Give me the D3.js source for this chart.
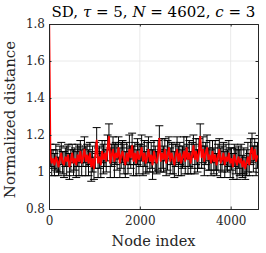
<!DOCTYPE html>
<html>
<head>
<meta charset="utf-8">
<script src="https://cdn.jsdelivr.net/npm/d3@7.9.0/dist/d3.min.js"></script>
<style>
  body { margin: 0; background: #fff; }
  svg { display: block; font-family: "DejaVu Serif", "Liberation Serif", serif; }
</style>
</head>
<body>
<svg width="266" height="253"></svg>
<script>
// one sample every `step` nodes
const step = 30;
const means = [
  1.90, 1.09, 1.05, 1.07, 1.04, 1.08, 1.06, 1.03, 1.07, 1.10,
  1.05, 1.04, 1.08, 1.06, 1.09, 1.03, 1.06, 1.10, 1.05, 1.07,
  1.04, 1.09, 1.06, 1.11, 1.05, 1.08, 1.12, 1.06, 1.09, 1.05,
  1.10, 1.03, 1.07, 1.02, 1.09, 1.17, 1.05, 1.08, 1.04, 1.11,
  1.07, 1.10, 1.06, 1.13, 1.19, 1.05, 1.09, 1.12, 1.06, 1.10,
  1.08, 1.13, 1.05, 1.09, 1.11, 1.07, 1.04, 1.10, 1.06, 1.12,
  1.08, 1.14, 1.06, 1.10, 1.05, 1.11, 1.07, 1.09, 1.13, 1.06,
  1.10, 1.05, 1.08, 1.12, 1.06, 1.09, 1.04, 1.11, 1.07, 1.05,
  1.09, 1.18, 1.06, 1.10, 1.07, 1.12, 1.05, 1.09, 1.13, 1.06,
  1.10, 1.07, 1.04, 1.09, 1.12, 1.06, 1.10, 1.05, 1.08, 1.11,
  1.06, 1.13, 1.07, 1.10, 1.05, 1.09, 1.14, 1.07, 1.11, 1.06,
  1.10, 1.19, 1.08, 1.12, 1.06, 1.10, 1.13, 1.07, 1.09, 1.05,
  1.11, 1.06, 1.09, 1.04, 1.08, 1.12, 1.05, 1.07, 1.10, 1.04,
  1.08, 1.06, 1.10, 1.05, 1.07, 1.03, 1.09, 1.06, 1.04, 1.08,
  1.05, 1.07, 1.03, 1.06, 1.02, 1.05, 1.08, 1.04, 1.11, 1.13,
  1.07, 1.12, 1.06, 1.09
];
const stds = [
  0.00, 0.06, 0.07, 0.05, 0.06, 0.07, 0.06, 0.05, 0.07, 0.06,
  0.06, 0.07, 0.05, 0.08, 0.06, 0.07, 0.06, 0.05, 0.07, 0.06,
  0.07, 0.06, 0.08, 0.06, 0.07, 0.05, 0.07, 0.08, 0.06, 0.07,
  0.06, 0.08, 0.07, 0.06, 0.07, 0.07, 0.08, 0.06, 0.07, 0.06,
  0.08, 0.07, 0.06, 0.07, 0.07, 0.08, 0.06, 0.07, 0.09, 0.06,
  0.07, 0.06, 0.08, 0.07, 0.06, 0.08, 0.07, 0.06, 0.07, 0.08,
  0.06, 0.07, 0.08, 0.06, 0.07, 0.07, 0.08, 0.06, 0.07, 0.08,
  0.07, 0.06, 0.08, 0.07, 0.06, 0.07, 0.08, 0.06, 0.07, 0.06,
  0.08, 0.07, 0.06, 0.08, 0.07, 0.06, 0.07, 0.08, 0.06, 0.07,
  0.06, 0.08, 0.07, 0.06, 0.07, 0.08, 0.06, 0.07, 0.06, 0.08,
  0.07, 0.06, 0.08, 0.07, 0.06, 0.07, 0.06, 0.08, 0.07, 0.06,
  0.08, 0.07, 0.06, 0.07, 0.08, 0.06, 0.07, 0.06, 0.08, 0.07,
  0.06, 0.07, 0.08, 0.06, 0.07, 0.06, 0.08, 0.07, 0.06, 0.07,
  0.07, 0.06, 0.07, 0.08, 0.06, 0.07, 0.06, 0.07, 0.08, 0.06,
  0.07, 0.08, 0.06, 0.07, 0.06, 0.07, 0.08, 0.06, 0.07, 0.08,
  0.07, 0.06, 0.08, 0.07
];
const nodes = means.map((_, i) => i * step);
const xTicks = [0, 2000, 4000];
const yTicks = [0.8, 1, 1.2, 1.4, 1.6, 1.8];
const N = 4602;

const svg = d3.select('svg');
const margin = { left: 49, right: 8, top: 24, bottom: 44 };
const W = 266, H = 253;

let x = d3.scaleLinear().domain([0, N]).range([margin.left, W - margin.right]);
let y = d3.scaleLinear().domain([0.8, 1.8]).range([H - margin.bottom, margin.top]);

svg.append('clipPath').attr('id', 'clip')
  .append('rect')
  .attr('x', x(0)).attr('y', y(1.8))
  .attr('width', x(N) - x(0)).attr('height', y(0.8) - y(1.8));

// grid
let grid = svg.append('g').attr('stroke', '#e4e4e4').attr('stroke-width', 0.8);
xTicks.slice(1).forEach(t => {
  grid.append('line').attr('x1', x(t)).attr('x2', x(t)).attr('y1', y(0.8)).attr('y2', y(1.8));
});
yTicks.slice(1, -1).forEach(t => {
  grid.append('line').attr('x1', x(0)).attr('x2', x(N)).attr('y1', y(t)).attr('y2', y(t));
});

let plot = svg.append('g').attr('clip-path', 'url(#clip)');

// error bars
let eb = plot.append('g').attr('stroke', '#000').attr('stroke-width', 1);
means.forEach((m, i) => {
  if (stds[i] === 0) return;
  let cx = x(nodes[i]);
  let lo = y(m - stds[i]), hi = y(m + stds[i]);
  eb.append('line').attr('x1', cx).attr('x2', cx).attr('y1', lo).attr('y2', hi);
  eb.append('line').attr('x1', cx - 4).attr('x2', cx + 4).attr('y1', lo).attr('y2', lo);
  eb.append('line').attr('x1', cx - 4).attr('x2', cx + 4).attr('y1', hi).attr('y2', hi);
});

let line = d3.line().x((d, i) => x(nodes[i])).y(d => y(d));
plot.append('path').datum(means)
  .attr('d', line)
  .attr('fill', 'none')
  .attr('stroke', '#ff0000')
  .attr('stroke-width', 2)
  .attr('stroke-linejoin', 'round');

// axes
const axisColor = '#262626';
let xAxis = svg.append('g').attr('transform', `translate(0,${y(0.8)})`)
  .call(d3.axisBottom(x).tickValues(xTicks).tickSize(-2.5).tickPadding(7).tickFormat(d3.format('d')));
let xAxisTop = svg.append('g').attr('transform', `translate(0,${y(1.8)})`)
  .call(d3.axisTop(x).tickValues(xTicks).tickSize(-2.5).tickFormat(''));
let yAxis = svg.append('g').attr('transform', `translate(${x(0)},0)`)
  .call(d3.axisLeft(y).tickValues(yTicks).tickSize(-2.5).tickPadding(4).tickFormat(d => d === 1 ? '1' : d3.format('.1f')(d)));
let yAxisRight = svg.append('g').attr('transform', `translate(${x(N)},0)`)
  .call(d3.axisRight(y).tickValues(yTicks).tickSize(-2.5).tickFormat(''));

[xAxis, xAxisTop, yAxis, yAxisRight].forEach(a => {
  a.select('.domain').attr('stroke', axisColor).attr('stroke-width', 1);
  a.selectAll('.tick line').attr('stroke', axisColor);
  a.selectAll('.tick text').attr('fill', axisColor)
    .attr('font-size', 12).attr('font-family', '"DejaVu Serif", serif');
});

// labels
svg.append('text')
  .attr('x', (x(0) + x(N)) / 2).attr('y', 246)
  .attr('text-anchor', 'middle').attr('font-size', 14.5).attr('fill', axisColor)
  .text('Node index');

svg.append('text')
  .attr('transform', `translate(15,${(y(0.8) + y(1.8)) / 2 + 3}) rotate(-90)`)
  .attr('text-anchor', 'middle').attr('font-size', 15).attr('fill', axisColor)
  .text('Normalized distance');

let title = svg.append('text')
  .attr('x', (x(0) + x(N)) / 2).attr('y', 16.5)
  .attr('text-anchor', 'middle').attr('font-size', 15).attr('fill', '#000');
title.append('tspan').text('SD, ');
title.append('tspan').attr('font-style', 'italic').text('τ');
title.append('tspan').text(' = 5, ');
title.append('tspan').attr('font-style', 'italic').text('N');
title.append('tspan').text(' = 4602, ');
title.append('tspan').attr('font-style', 'italic').text('c');
title.append('tspan').text(' = 3');
</script>
</body>
</html>
